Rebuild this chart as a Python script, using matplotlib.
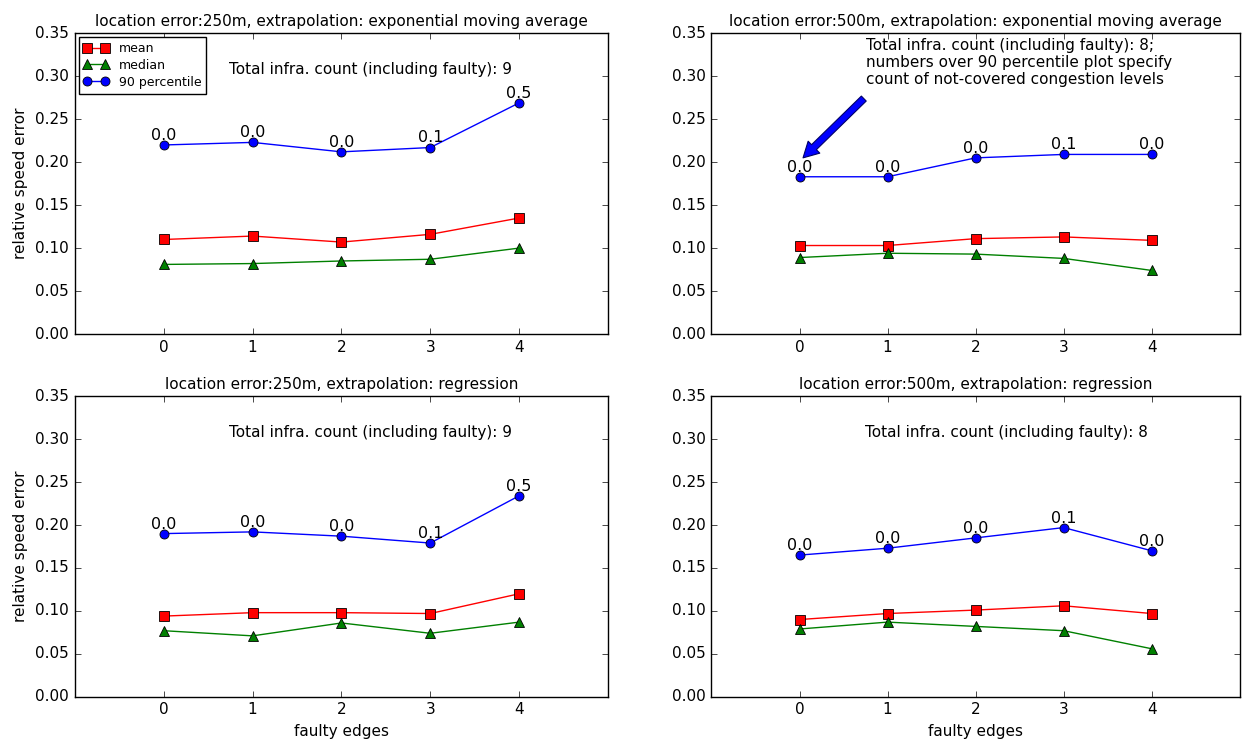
import matplotlib
matplotlib.use("Agg")
import matplotlib.pyplot as plt

# faulty edges on x axis
faulty = [0, 1, 2, 3, 4]

titles = [
    "location error:250m, extrapolation: exponential moving average",
    "location error:500m, extrapolation: exponential moving average",
    "location error:250m, extrapolation: regression",
    "location error:500m, extrapolation: regression",
]

# relative speed error values, one list per panel
mean_vals = [
    [0.110, 0.114, 0.107, 0.116, 0.135],
    [0.103, 0.103, 0.111, 0.113, 0.109],
    [0.094, 0.098, 0.098, 0.097, 0.120],
    [0.090, 0.097, 0.101, 0.106, 0.097],
]
median_vals = [
    [0.081, 0.082, 0.085, 0.087, 0.100],
    [0.089, 0.094, 0.093, 0.088, 0.074],
    [0.077, 0.071, 0.086, 0.074, 0.087],
    [0.079, 0.087, 0.082, 0.077, 0.056],
]
p90_vals = [
    [0.220, 0.223, 0.212, 0.217, 0.269],
    [0.183, 0.183, 0.205, 0.209, 0.209],
    [0.190, 0.192, 0.187, 0.179, 0.234],
    [0.165, 0.173, 0.185, 0.197, 0.170],
]
# count of not-covered congestion levels, printed over 90 percentile
uncovered = [
    ["0.0", "0.0", "0.0", "0.1", "0.5"],
    ["0.0", "0.0", "0.0", "0.1", "0.0"],
    ["0.0", "0.0", "0.0", "0.1", "0.5"],
    ["0.0", "0.0", "0.0", "0.1", "0.0"],
]
infra_counts = [9, 8, 9, 8]

plt.style.use("classic")
plt.rcParams["font.family"] = "DejaVu Sans"

fig = plt.figure(figsize=(12.46, 7.39), dpi=100, facecolor="white")
boxes = [
    [0.060, 0.548, 0.428, 0.407],
    [0.571, 0.548, 0.424, 0.407],
    [0.060, 0.057, 0.428, 0.407],
    [0.571, 0.057, 0.424, 0.407],
]

for i in range(4):
    ax = fig.add_axes(boxes[i])
    ax.plot(faulty, mean_vals[i], "r-s", ms=6.5, mew=0.6, label="mean")
    ax.plot(faulty, median_vals[i], "g-^", ms=6.5, mew=0.6, label="median")
    ax.plot(faulty, p90_vals[i], "b-o", ms=6.5, mew=0.6, label="90 percentile")
    for x, y, s in zip(faulty, p90_vals[i], uncovered[i]):
        ax.annotate(s, (x, y), xytext=(0, 1.5), textcoords="offset points",
                    ha="center", va="bottom", fontsize=11.5)
    ax.set_xlim(-1, 5)
    ax.set_ylim(0, 0.35)
    ax.set_xticks(faulty)
    ax.set_yticks([0.0, 0.05, 0.10, 0.15, 0.20, 0.25, 0.30, 0.35])
    ax.set_yticklabels(["%.2f" % v for v in ax.get_yticks()])
    ax.tick_params(labelsize=11)
    ax.set_title(titles[i], fontsize=11)
    if i % 2 == 0:
        ax.set_ylabel("relative speed error", fontsize=11)
    if i >= 2:
        ax.set_xlabel("faulty edges", fontsize=11)

    if i == 1:
        ax.text(0.76, 0.344, "Total infra. count (including faulty): %d;\n"
                "numbers over 90 percentile plot specify\n"
                "count of not-covered congestion levels" % infra_counts[i],
                ha="left", va="top", fontsize=11, linespacing=1.15)
        ax.annotate("", xy=(0.04, 0.205), xytext=(0.73, 0.274),
                    arrowprops=dict(facecolor="blue", edgecolor="#000066",
                                    width=5, headwidth=12, headlength=11,
                                    shrink=0, lw=0.8))
    else:
        ax.text(0.74, 0.308, "Total infra. count (including faulty): %d" % infra_counts[i],
                ha="left", va="center", fontsize=11)

    if i == 0:
        ax.legend(loc="upper left", fontsize=9, numpoints=2, handlelength=2,
                  borderaxespad=0.3, labelspacing=0.3)

fig.savefig("out.png", dpi=100, facecolor="white")
